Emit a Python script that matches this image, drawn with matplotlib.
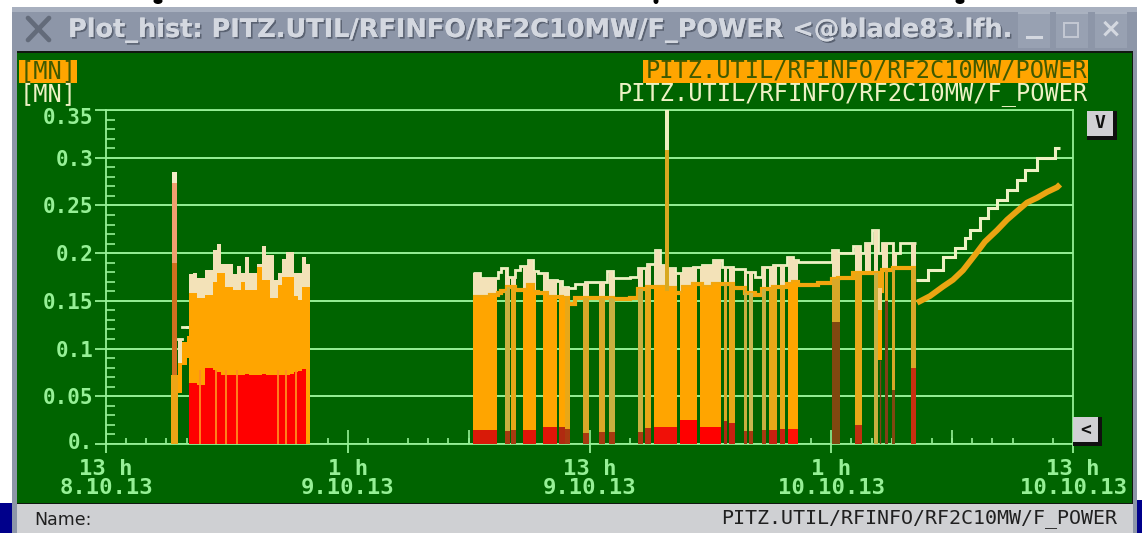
import numpy as np
import matplotlib
matplotlib.use("Agg")
import matplotlib.pyplot as plt
from matplotlib.patches import Rectangle, Ellipse
from matplotlib.transforms import ScaledTranslation
import matplotlib.patheffects as pe

# ---------- data (time in hours after 13 h on 8.10.13, power in MW) ----------
y_ticks = [0, 0.05, 0.1, 0.15, 0.2, 0.25, 0.3, 0.35]
y_labels = ["0.", "0.05", "0.1", "0.15", "0.2", "0.25", "0.3", "0.35"]
x_ticks = [0, 12, 24, 36, 48]
x_labels = ["13 h\n8.10.13", "1 h\n9.10.13", "13 h\n9.10.13", "1 h\n10.10.13", "13 h\n10.10.13"]
skipped_hours = [14, 46]

# first short burst
burst_start = [3.23, 3.27, 3.27, 3.27]
burst_end = [3.57, 3.53, 3.53, 3.53]
burst_low = [0.0, 0.072, 0.19, 0.273]
burst_high = [0.072, 0.19, 0.273, 0.285]
ramp_start = [3.57, 3.77, 4.02]
ramp_end = [3.77, 4.02, 4.12]
ramp_power_low = [0.053, 0.083, 0.09]
ramp_power_high = [0.085, 0.107, 0.113]
ramp_fpower = [0.11, 0.123, 0.123]

# first long block
b1_edges = [4.12, 4.32, 4.52, 4.72, 4.92, 5.12, 5.32, 5.52, 5.72, 5.92, 6.12, 6.32, 6.52, 6.72, 6.92, 7.12,
            7.32, 7.52, 7.72, 7.92, 8.12, 8.32, 8.52, 8.72, 8.92, 9.12, 9.32, 9.52, 9.72, 9.92, 10.12]
b1_fpower = [.178, .179, .174, .174, .182, .182, .203, .210, .189, .189, .189, .178, .187, .179, .196,
             .179, .179, .189, .208, .198, .198, .172, .179, .194, .201, .201, .179, .179, .196, .189]
b1_power = [.158, .158, .153, .153, .156, .156, .170, .179, .179, .165, .165, .161, .161, .170, .161,
            .161, .161, .186, .172, .172, .153, .153, .167, .175, .175, .175, .155, .151, .165, .165]
b1_min = [.064, .064, .062, .062, .080, .080, .078, .075, .072, .072, .072, .072, .072, .072, .073,
          .072, .072, .072, .073, .072, .072, .072, .072, .072, .072, .073, .075, .077, .079, 0]
b1_dips = [4.67, 5.46, 5.96, 6.50, 8.54, 8.93, 9.43]

# second long block and the slow rise afterwards
b2_edges = [18.22, 18.56, 19.06, 19.46, 19.61, 19.91, 20.30, 20.55, 20.95, 21.20, 21.44, 21.89, 22.39, 22.64,
            22.93, 23.28, 23.78, 24.87, 25.17, 26.01, 26.41, 26.86, 27.25, 27.50, 27.65, 27.85, 28.25, 28.64,
            29.14, 29.59, 30.13, 30.58, 31.12, 31.72, 32.22, 32.56, 33.11, 33.81, 34.10, 34.35, 35.34, 36.04,
            36.34, 37.08, 37.43, 37.68, 38.02, 38.32, 38.52, 38.77, 39.07, 39.41, 40.06, 40.21]
b2_fpower = [.179, .174, .174, .180, .184, .175, .182, .187, .193, .181, .179, .172, .171, .165, .163, .168,
             .170, .181, .174, .175, .184, .189, .203, .188, .188, .184, .179, .184, .186, .188, .193, .185,
             .183, .180, .175, .186, .188, .196, .193,
             .191, .191, .203, .200, .207, .200, .211, .224, .200, .211, .211, .200, .211, .211]
b2_power = [.154, .154, .156, .158, .160, .165, .161, .161, .167, .159, .158, .154, .154, .153, .147, .153,
            .153, .153, .152, .153, .162, .165, .165, .165, .165, .163, .158, .165, .168, .165, .168, .168,
            .163, .158, .156, .162, .164, .168, .170,
            .167, .169, .173, .174, .179, .179, .179, .179, .160, .182, .182, .184, .184, .184]
tail_edges = [40.21, 40.80, 41.55, 42.14, 42.64, 42.89, 43.39, 43.78, 44.23, 44.73, 45.22, 45.62, 46.22, 47.11, 47.36]
tail_fpower = [.172, .182, .196, .205, .216, .224, .237, .247, .256, .266, .277, .287, .300, .310]
tail_time = [40.26, 40.90, 41.55, 42.04, 42.54, 43.13, 43.63, 44.23, 44.73, 45.22, 45.72, 46.22, 46.71, 47.21, 47.36]
tail_power = [.148, .155, .165, .172, .182, .198, .212, .224, .235, .244, .253, .258, .264, .269, .272]

run_start = [18.22, 19.81, 20.10, 20.70, 21.69, 22.49, 22.79, 23.68, 24.47, 24.97, 26.41, 26.76, 27.20, 28.49,
             29.49, 30.68, 30.93, 31.67, 31.92, 32.56, 32.91, 33.46, 33.86, 36.04, 37.18, 38.12, 38.67, 39.02, 39.96]
run_end = [19.41, 20.05, 20.35, 21.35, 22.39, 22.79, 23.03, 23.98, 24.77, 25.27, 26.66, 27.05, 28.34, 29.34,
           30.53, 30.83, 31.22, 31.82, 32.12, 32.76, 33.31, 33.71, 34.35, 36.44, 37.53, 38.32, 38.82, 39.17, 40.21]
run_min = [.015, .014, .015, .015, .018, .018, .016, .012, .013, .013, .013, .017, .018, .025,
           .018, .024, .022, .014, .014, .015, .015, .016, .016, .128, .020, 0, .150, .057, .080]
stub_start = [37.68, 38.52, 39.07]
stub_end = [37.98, 38.77, 39.27]
hang_start = [38.32, 38.32]
hang_end = [38.52, 38.52]
hang_low = [.14, .088]
hang_high = [.163, .14]
spike_start = [27.74, 27.74]
spike_end = [27.94, 27.94]
spike_low = [.16, .308]
spike_high = [.308, .35]

# ---------- styles ----------
GREEN = "#006400"
GRID = "#96f096"
CREAM = "#f3e2b8"
ORANGE = "#ffa500"
RED = "#ff0000"
LINE_CREAM = "#eef2c4"
D, G, O, E, L = "#d8a828", "#c8b040", ORANGE, "#e8a818", "#c8b850"
run_colors = [O, G, E, O, O, O, E, D, D, G, G, E, O, O, O, D, E, G, L, G, E, E, O, D, E, G, "#e0a020", D, D]
R1, R2, R3, R4 = "#d81a08", "#a83a10", "#e01508", "#804810"
min_colors = [R1, R2, R2, R3, R3, "#b02a10", R2, R2, R2, R2, R2, "#b83010", "#f01008", RED,
              RED, "#b02810", "#c82010", R2, R2, R2, "#c82010", "#c82010", "#ff1005", R4, "#c03010", R4, "#804018", R4, "#c83010"]
burst_colors = ["#eda515", "#d0701f", "#f0a070", "#f4ecc8"]
hang_colors = ["#f8d080", ORANGE]
spike_colors = ["#d8a820", "#eef0c0"]

W, H = 1142, 533
plt.rcParams["font.family"] = ["DejaVu Sans"]
fig = plt.figure(figsize=(W / 100, H / 100), dpi=100, facecolor="white")


def layer(z):
    a = fig.add_axes([0, 0, 1, 1], zorder=z)
    a.set_xlim(0, W)
    a.set_ylim(H, 0)
    a.axis("off")
    return a


chrome = layer(0)
top = layer(2)


def box(a, x0, y0, x1, y1, c, z=1, **kw):
    a.add_patch(Rectangle((x0, y0), x1 - x0, y1 - y0, fc=c, ec="none", zorder=z, **kw))


# window furniture
box(chrome, 0, 503, 13, H, "#00008b")
box(chrome, 1137, 500, W, H, "#00008b")
box(chrome, 12, 7, 1137, H, "#8d96a8")
box(chrome, 12, 7, 1137, 12, "#a8b0bf")
box(chrome, 17, 51, 1133, 504, "#101810")
box(chrome, 17, 53, 1132, 503, GREEN, z=2)
box(chrome, 17, 504, 1133, H, "#cfd0d3", z=2)
for cx, w in [(158, 9), (656, 5), (960, 9)]:
    chrome.add_patch(Ellipse((cx, 1), w, 6, fc="black", ec="none"))
for bx0, bx1 in [(1018, 1050), (1056, 1088), (1095, 1127)]:
    box(chrome, bx0, 12, bx1, 48, "#98a1b2", z=2)
    box(chrome, bx0, 12, bx1, 14, "#aab2c0", z=3)
chrome.plot([28, 49], [18, 40], color="#636b7a", lw=3.4, solid_capstyle="round", zorder=3)
chrome.plot([28, 49], [40, 18], color="#636b7a", lw=3.4, solid_capstyle="round", zorder=3)
chrome.plot([1027, 1041], [37, 37], color="#d4d8e0", lw=2.2, zorder=3)
chrome.add_patch(Rectangle((1064, 23), 14, 14, fc="none", ec="#c4c9d3", lw=1.4, zorder=3))
chrome.text(1111, 30, "\u00d7", color="#d4d8e0", fontsize=19, fontweight="bold", ha="center", va="center", zorder=3)
title = chrome.text(68, 30, "Plot_hist: PITZ.UTIL/RFINFO/RF2C10MW/F_POWER <@blade83.lfh.", color="#d4d8e0",
                    fontsize=18.4, fontweight="bold", ha="left", va="center", zorder=3)
title.set_path_effects([pe.withSimplePatchShadow(offset=(1.2, -1.2), shadow_rgbFace="#555d6c", alpha=0.9), pe.Normal()])

# legend rows
MONO = "DejaVu Sans Mono"
box(chrome, 19, 60, 77, 83, ORANGE, z=3)
box(chrome, 643, 60, 1088, 83, ORANGE, z=3)
for xx, ha, s in [(48, "center", "[MN]"), (1088, "right", "PITZ.UTIL/RFINFO/RF2C10MW/POWER")]:
    chrome.text(xx, 71, s, color="#3f5a00", family=MONO, fontsize=17, ha=ha, va="center", zorder=4)
for xx, ha, s in [(48, "center", "[MN]"), (1088, "right", "PITZ.UTIL/RFINFO/RF2C10MW/F_POWER")]:
    chrome.text(xx, 94, s, color=LINE_CREAM, family=MONO, fontsize=17, ha=ha, va="center", zorder=4)
chrome.text(34, 520, "Name:", color="#202020", family="DejaVu Sans", fontsize=12.5, ha="left", va="center", zorder=4)
chrome.text(1117, 519, "PITZ.UTIL/RFINFO/RF2C10MW/F_POWER", color="#202020", family=MONO, fontsize=14.4,
            ha="right", va="center", zorder=4)

# plot buttons
for x0, y0, x1, y1, s in [(1087, 111, 1117, 140, "V"), (1073, 417, 1102, 446, "<")]:
    box(top, x0, y0, x1, y1, "#101010")
    box(top, x0, y0, x1 - 4, y1 - 4, "#d0d0d4", z=2)
    top.text((x0 + x1 - 4) / 2, (y0 + y1 - 4) / 2, s, color="#101010", family=MONO, fontweight="bold",
             fontsize=13, ha="center", va="center", zorder=3)

# ---------- plot ----------
ax = fig.add_axes([106 / W, (H - 444) / H, 967 / W, 334 / H], zorder=1)
ax.patch.set_alpha(0)
ax.set_xlim(0, 48)
ax.set_ylim(0, 0.35)
for name in ["top", "left", "bottom", "right"]:
    ax.spines[name].set_color(GRID)
    ax.spines[name].set_linewidth(1.3)
    ax.spines[name].set_zorder(1)
ax.set_axisbelow(True)
ax.grid(axis="y", color=GRID, lw=1.4, zorder=1)

ax.set_yticks(y_ticks, y_labels)
ax.set_yticks(np.arange(0, 0.35, 0.01), minor=True)
ax.tick_params(axis="y", which="major", direction="out", length=8, width=1.3, color=GRID, labelcolor=GRID, pad=1)
ax.tick_params(axis="y", which="minor", direction="in", length=6.5, width=1.2, color=GRID)
ax.set_xticks(x_ticks, x_labels)
ax.set_xticks([h for h in range(1, 48) if h % 12 and h not in skipped_hours], minor=True)
ax.tick_params(axis="x", which="major", direction="out", length=6.5, width=1.3, color=GRID, labelcolor=GRID, pad=4.5)
ax.tick_params(axis="x", which="minor", direction="in", length=4.5, width=1.2, color=GRID)
ax.vlines(np.arange(0, 48, 6), 0, 14 / 334, transform=ax.get_xaxis_transform(), color=GRID, lw=1.2, zorder=1)
y_tick_labels = ax.get_yticklabels()
for lab in y_tick_labels:
    lab.set(family=MONO, fontweight="bold", fontsize=15)
for lab in ax.get_xticklabels():
    lab.set(family=MONO, fontweight="bold", fontsize=16, linespacing=0.92)
# the outermost labels sit just inside the axis range in the original
y_tick_labels[-1].set_transform(y_tick_labels[-1].get_transform() + ScaledTranslation(0, -6 / 100, fig.dpi_scale_trans))
y_tick_labels[0].set_transform(y_tick_labels[0].get_transform() + ScaledTranslation(0, 3 / 100, fig.dpi_scale_trans))

# first burst and ramp
for a, b, lo, hi, c in zip(burst_start, burst_end, burst_low, burst_high, burst_colors):
    ax.fill_between([a, b], lo, hi, color=c, lw=0, zorder=4)
for a, b, lo, hi, fp in zip(ramp_start, ramp_end, ramp_power_low, ramp_power_high, ramp_fpower):
    ax.fill_between([a, b], lo, hi, color=ORANGE, lw=0, zorder=4)
    ax.plot([a, b], [fp, fp], color=LINE_CREAM, lw=2, zorder=3)
ax.fill_between([ramp_start[0], ramp_end[0]], ramp_power_high[0], ramp_fpower[0], color=CREAM, lw=0, zorder=3)

# first long block
ax.stairs(b1_fpower, b1_edges, baseline=0, fill=True, color=CREAM, zorder=3)
ax.stairs(b1_power, b1_edges, baseline=0, fill=True, color=ORANGE, zorder=4)
ax.stairs(b1_min, b1_edges, baseline=0, fill=True, color=RED, zorder=5)
ax.vlines(b1_dips, 0, 0.078, color="#ff8c20", lw=1.3, zorder=6)


def clip_to(artist, a, b):
    artist.set_clip_path(Rectangle((a, 0), b - a, 1, transform=ax.transData))


# second block, run by run: the signal fell to zero between runs
for a, b in list(zip(run_start, run_end)) + list(zip(stub_start, stub_end)):
    clip_to(ax.stairs(b2_fpower, b2_edges, baseline=b2_power, fill=True, color=CREAM, zorder=3), a, b)
for a, b, c, m, mc in zip(run_start, run_end, run_colors, run_min, min_colors):
    clip_to(ax.stairs(b2_power, b2_edges, baseline=0, fill=True, color=c, zorder=4), a, b)
    if m:
        ax.fill_between([a, b], 0, m, color=mc, lw=0, zorder=5)
for a, b, lo, hi, c in zip(hang_start, hang_end, hang_low, hang_high, hang_colors):
    ax.fill_between([a, b], lo, hi, color=c, lw=0, zorder=4)
ax.vlines((hang_start[0] + hang_end[0]) / 2, 0, hang_low[1], color="#804018", lw=1.0, zorder=4)
for a, b, lo, hi, c in zip(spike_start, spike_end, spike_low, spike_high, spike_colors):
    ax.fill_between([a, b], lo, hi, color=c, lw=0, zorder=6)

# slow traces
ax.stairs(b2_fpower, b2_edges, color=LINE_CREAM, lw=2.0, zorder=2.9, baseline=None)
ax.stairs(tail_fpower, tail_edges, color=LINE_CREAM, lw=2.2, zorder=3.5, baseline=None)
ax.stairs(b2_power, b2_edges, color="#f2a60e", lw=3.0, zorder=3.8, baseline=None)
ax.plot(tail_time, tail_power, color="#eaa512", lw=4.2, zorder=4.5, solid_capstyle="butt")

fig.savefig("out.png", dpi=100, facecolor="white")
